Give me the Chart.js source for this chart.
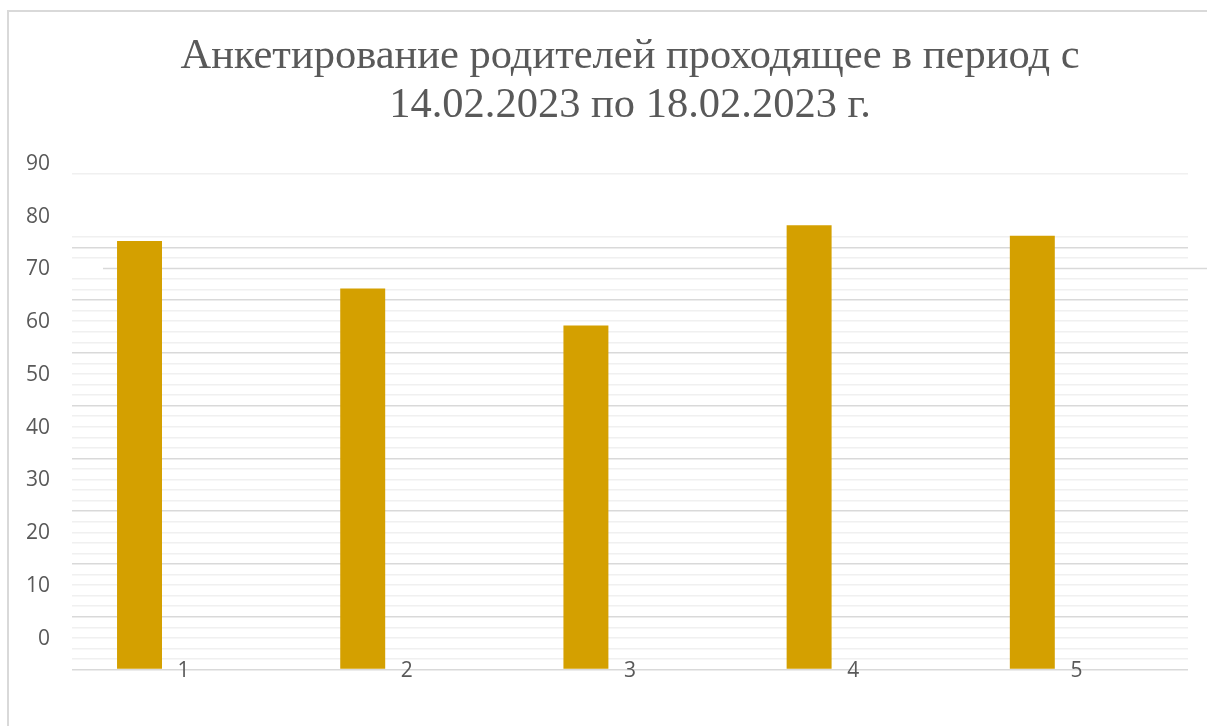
<!DOCTYPE html>
<html>
<head>
<meta charset="utf-8">
<script src="https://cdn.jsdelivr.net/npm/chart.js@4"></script>
<style>
  html, body { margin: 0; padding: 0; background: #fff; }
  #wrap { position: relative; width: 1207px; height: 726px; }
  #frame { position: absolute; left: 7px; top: 10px; right: 0; bottom: 0;
           border-left: 2px solid #d9d9d9; border-top: 2px solid #d9d9d9; }
  canvas { position: absolute; left: 0; top: 0; }
</style>
</head>
<body>
<div id="wrap">
  <div id="frame"></div>
  <canvas id="chart" width="1207" height="726"></canvas>
</div>
<script>
// categories and values
const categories = ['1', '2', '3', '4', '5'];
const seriesA = [75, 66, 59, 78, 76];
const seriesB = [null, null, null, null, null]; // second (empty) series keeps bars shifted left
const yTickLabels = [0, 10, 20, 30, 40, 50, 60, 70, 80, 90];

// the gridlines in the picture sit a bit below the labels
const yMin = -6.2;
const yMax = 92;
const gridStep = 2;
const gridTop = 87.8;
const labelShift = 0.38;
const oddLine = 38; // one gridline in the picture is darker and runs past the plot

const textColor = '#595959';

// draws that one stray gridline from x=103 to the right edge
const strayLine = {
  id: 'strayLine',
  beforeDatasetsDraw(chart) {
    const y = chart.scales.y.getPixelForValue(yMin + oddLine * gridStep);
    const c = chart.ctx;
    c.save();
    c.strokeStyle = '#d9d9d9';
    c.lineWidth = 1.5;
    c.beginPath();
    c.moveTo(103, y);
    c.lineTo(chart.width, y);
    c.stroke();
    c.restore();
  }
};

const ctx = document.getElementById('chart').getContext('2d');
new Chart(ctx, {
  type: 'bar',
  data: {
    labels: categories,
    datasets: [
      { label: 'Ряд 1', data: seriesA, backgroundColor: '#d4a000', base: yMin,
        categoryPercentage: 0.79, barPercentage: 0.51 },
      { label: 'Ряд 2', data: seriesB, backgroundColor: '#d4a000', base: yMin,
        categoryPercentage: 0.79, barPercentage: 0.51 }
    ]
  },
  options: {
    responsive: false,
    animation: false,
    layout: { padding: { left: 0, right: 19, top: 0, bottom: 0 } },
    plugins: {
      legend: { display: false },
      tooltip: { enabled: false },
      title: {
        display: true,
        fullSize: false,
        text: ['Анкетирование родителей проходящее в период с', '14.02.2023 по 18.02.2023 г.'],
        color: textColor,
        font: { family: "'Liberation Serif', 'Times New Roman', serif", size: 42.5, weight: 'normal', lineHeight: 1.17 },
        padding: { top: 31.5, bottom: 20.3 }
      }
    },
    scales: {
      x: {
        grid: { display: false, drawTicks: false },
        border: { display: false },
        ticks: { color: textColor, mirror: true, padding: -14, font: { family: "'Open Sans', sans-serif", size: 21 } },
        afterFit(scale) { scale.height = 56.5; }
      },
      y: {
        min: yMin, max: yMax,
        border: { display: false },
        ticks: { display: false },
        grid: {
          drawTicks: false,
          lineWidth: 1.5,
          color(c) {
            const v = c.tick.value;
            if (v > gridTop + 0.01) return 'rgba(0,0,0,0)';
            if (v > 76 && v < 86) return 'rgba(0,0,0,0)';
            const k = Math.round((v - yMin) / gridStep);
            if (k === oddLine) return 'rgba(0,0,0,0)';
            if (k % 5 === 0) return '#d9d9d9';
            return '#f0f0f0';
          }
        },
        afterBuildTicks(scale) {
          const t = [];
          for (let v = yMin; v <= gridTop + 0.01; v += gridStep) t.push({ value: v });
          scale.ticks = t;
        },
        afterFit(scale) { scale.width = 0; }
      },
      yl: {
        type: 'linear',
        position: 'left',
        min: yMin + labelShift, max: yMax + labelShift,
        border: { display: false },
        grid: { display: false, drawTicks: false },
        ticks: { color: textColor, padding: 22, font: { family: "'Open Sans', sans-serif", size: 21 } },
        afterBuildTicks(scale) {
          scale.ticks = yTickLabels.map(v => ({ value: v }));
        },
        afterFit(scale) { scale.width = 72; }
      }
    }
  },
  plugins: [strayLine]
});
</script>
</body>
</html>
